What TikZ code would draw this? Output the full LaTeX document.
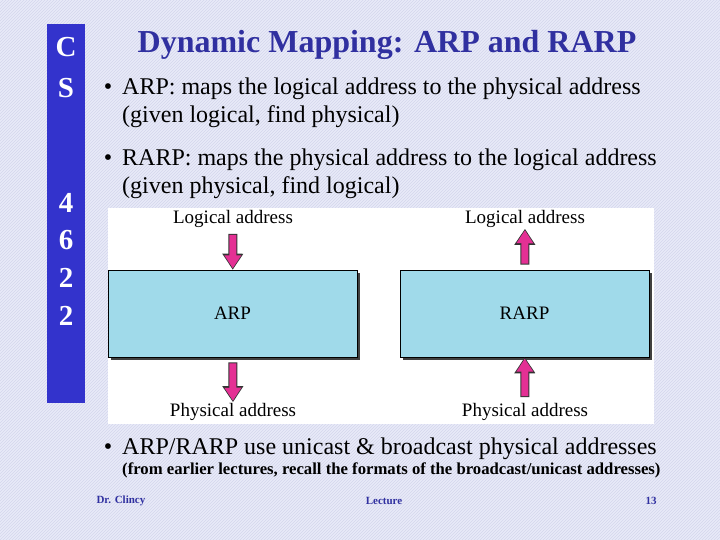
\documentclass[tikz,border=0pt]{standalone}
\usepackage{fontspec}
\setmainfont{Liberation Serif}
\usepackage{tikz}
\usetikzlibrary{arrows.meta, positioning, shadows, patterns}

\definecolor{slidebg}{RGB}{232,234,248}
\definecolor{hatch}{RGB}{212,214,236}
\definecolor{barblue}{RGB}{51,51,204}
\definecolor{titleblue}{RGB}{48,48,160}
\definecolor{boxblue}{RGB}{160,218,234}
\definecolor{arrowpink}{RGB}{228,48,148}

\begin{document}
\begin{tikzpicture}[x=1pt, y=-1pt,
    bartext/.style={text=white, font=\fontsize{29}{29}\selectfont\bfseries},
    dot/.style={anchor=base, inner sep=0pt, font=\fontsize{24}{24}\selectfont},
    line/.style={anchor=base west, inner sep=0pt, font=\fontsize{24}{24}\selectfont},
    label/.style={font=\fontsize{19}{19}\selectfont, inner sep=1pt},
    mapper/.style={rectangle, draw=black, line width=0.6pt, fill=boxblue, minimum width=249pt, minimum height=87pt,
        font=\fontsize{19}{19}\selectfont,
        drop shadow={shadow xshift=3pt, shadow yshift=-3pt, fill=black!75, opacity=1}},
    flow/.style={arrowpink, line width=7pt, -{Triangle[width=16pt, length=13pt]}, shorten <=6pt, shorten >=1.4pt,
        preaction={draw=black!80, line width=9pt, -{Triangle[width=20pt, length=16pt]}, shorten <=5pt, shorten >=0pt}},
    footer/.style={text=titleblue, font=\fontsize{11}{11}\selectfont\bfseries}
]
\useasboundingbox (0,0) rectangle (720,540);
\fill[slidebg] (0,0) rectangle (720,540);
\fill[pattern=north east lines, pattern color=hatch] (0,0) rectangle (720,540);

% side bar with the course number
\fill[barblue] (47,24) rectangle (85,403);
\node[bartext] (c) at (66,47) {C};
\node[bartext] (s) at (66,88) {S};
\node[bartext] (d1) at (66,203) {4};
\node[bartext] (d2) at (66,240) {6};
\node[bartext] (d3) at (66,278) {2};
\node[bartext] (d4) at (66,316) {2};

% title and bullets
\node[text=titleblue, font=\fontsize{32}{32}\selectfont\bfseries] (title) at (387,45) {Dynamic Mapping: ARP and RARP};

\node[dot] (dot1) at (108,95) {\textbullet};
\node[line] (b1a) at (122,95) {ARP: maps the logical address to the physical address};
\node[line] (b1b) at (122,123) {(given logical, find physical)};
\node[dot] (dot2) at (108,166) {\textbullet};
\node[line] (b2a) at (122,166) {RARP: maps the physical address to the logical address};
\node[line] (b2b) at (122,194) {(given physical, find logical)};

% figure area
\fill[white] (108,208) rectangle (654,424);

\node[mapper] (arp) at (232.5,313.5) {ARP};
\node[mapper] (rarp) at (524.5,313.5) {RARP};

\node[label] (arpin) at (233,219) {Logical address};
\node[label] (arpout) at (233,412) {Physical address};
\node[label] (rarpout) at (525,219) {Logical address};
\node[label] (rarpin) at (525,412) {Physical address};

% ARP goes down, RARP goes up
\draw[flow] (arpin) -- (arp);
\draw[flow] (arp) -- (arpout);
\draw[flow] (rarpin) -- (rarp);
\draw[flow] (rarp) -- (rarpout);

% last bullet
\node[dot] (dot3) at (108,454) {\textbullet};
\node[line] (b3) at (122,454) {ARP/RARP use unicast \& broadcast physical addresses};
\node[anchor=west, inner sep=0pt, font=\fontsize{16.7}{16.7}\selectfont\bfseries] (note) at (122,470) {(from earlier lectures, recall the formats of the broadcast/unicast addresses)};

% footer
\node[footer, anchor=west] (author) at (93,501) {Dr. Clincy};
\node[footer] (lecture) at (384,501) {Lecture};
\node[footer] (page) at (651,501) {13};
\end{tikzpicture}
\end{document}
